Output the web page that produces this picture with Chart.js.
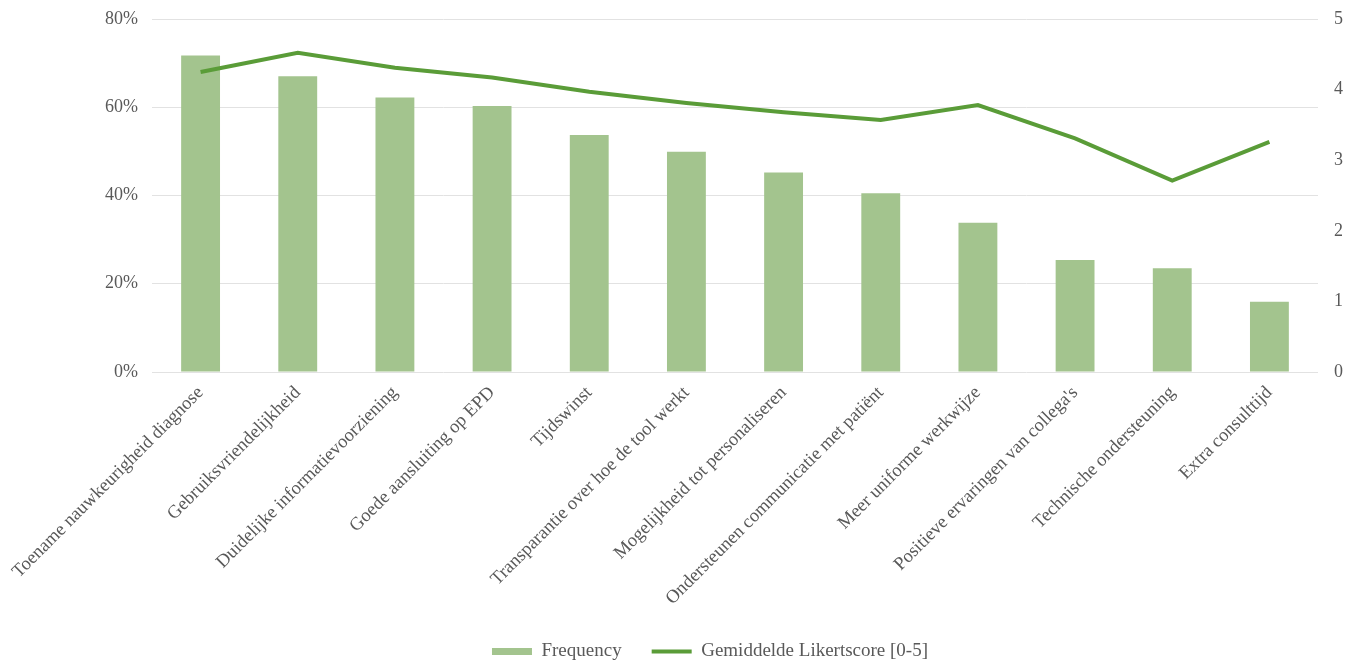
<!DOCTYPE html>
<html>
<head>
<meta charset="utf-8">
<script src="https://cdn.jsdelivr.net/npm/chart.js@4.4.1/dist/chart.umd.min.js"></script>
<style>
  html, body { margin: 0; padding: 0; background: #fff; }
  #wrap { width: 1358px; height: 662px; }
</style>
</head>
<body>
<div id="wrap"><canvas id="myChart"></canvas></div>
<script>
const labels = [
  'Toename nauwkeurigheid diagnose',
  'Gebruiksvriendelijkheid',
  'Duidelijke informatievoorziening',
  'Goede aansluiting op EPD',
  'Tijdswinst',
  'Transparantie over hoe de tool werkt',
  'Mogelijkheid tot personaliseren',
  'Ondersteunen communicatie met patiënt',
  'Meer uniforme werkwijze',
  'Positieve ervaringen van collega\'s',
  'Technische ondersteuning',
  'Extra consulttijd'
];

// percentage of respondents per factor
const frequency = [71.7, 67.0, 62.2, 60.3, 53.7, 49.9, 45.2, 40.5, 33.8, 25.4, 23.5, 15.9];
// mean Likert score per factor (0-5)
const likert = [4.25, 4.52, 4.31, 4.17, 3.97, 3.81, 3.68, 3.57, 3.78, 3.31, 2.71, 3.26];

const pctTicks = [0, 20, 40, 60, 80];
const scoreTicks = [0, 1, 2, 3, 4, 5];

const barColor = '#a3c48e';
const lineColor = '#5a9c38';
const textColor = '#595959';
const fontFamily = '"Liberation Serif", "Times New Roman", serif';

Chart.defaults.font.family = fontFamily;
Chart.defaults.color = textColor;

// legend sits a bit right of the canvas centre, under the plot area
const legendShift = {
  id: 'legendShift',
  afterLayout(chart) {
    const lg = chart.legend;
    if (!lg) return;
    lg.left += 31;
    lg.right += 31;
  }
};

// keep the vertical axes from reserving extra room above/below the plot
const noVPad = (scale) => {
  scale.paddingTop = 0;
  scale.paddingBottom = 0;
};

const data = {
  labels: labels,
  datasets: [{
    type: 'bar',
    label: 'Frequency',
    data: frequency,
    backgroundColor: barColor,
    yAxisID: 'y',
    categoryPercentage: 1,
    barPercentage: 0.4,
    order: 1
  }, {
    type: 'line',
    label: 'Gemiddelde Likertscore [0-5]',
    data: likert,
    borderColor: lineColor,
    backgroundColor: lineColor,
    borderWidth: 4,
    pointRadius: 0,
    tension: 0,
    yAxisID: 'y1',
    order: 0
  }]
};

const config = {
  data: data,
  plugins: [legendShift],
  options: {
    responsive: true,
    maintainAspectRatio: false,
    animation: false,
    layout: { padding: { top: 19, left: 0, right: 0, bottom: -9 } },
    plugins: {
      tooltip: { enabled: false },
      legend: {
        position: 'bottom',
        labels: {
          font: { size: 19 },
          color: textColor,
          usePointStyle: true,
          pointStyleWidth: 40,
          boxHeight: 7,
          padding: 30,
          sort: (a, b) => a.datasetIndex - b.datasetIndex,
          generateLabels: (chart) => chart.data.datasets.map((ds, i) => ({
            text: ds.label,
            datasetIndex: i,
            fillStyle: ds.type === 'bar' ? barColor : 'rgba(0,0,0,0)',
            strokeStyle: lineColor,
            lineWidth: ds.type === 'bar' ? 0 : 4,
            pointStyle: ds.type === 'bar' ? 'rect' : 'line',
            fontColor: textColor,
            hidden: false
          }))
        }
      }
    },
    scales: {
      x: {
        offset: true,
        grid: { display: false },
        border: { display: false },
        ticks: {
          font: { size: 18.5 },
          color: textColor,
          maxRotation: 45,
          minRotation: 45,
          autoSkip: false,
          padding: 2
        },
        afterFit: (scale) => { scale.height = 240; }
      },
      y: {
        position: 'left',
        min: 0,
        max: 80,
        afterBuildTicks: (scale) => { scale.ticks = pctTicks.map(v => ({ value: v })); },
        grid: { color: '#e2e2e2', lineWidth: 1, drawTicks: false },
        border: { display: false },
        ticks: {
          font: { size: 18 },
          color: textColor,
          padding: 14,
          callback: (v) => v + '%'
        },
        afterFit: (scale) => { scale.width = 152; noVPad(scale); }
      },
      y1: {
        position: 'right',
        min: 0,
        max: 5,
        afterBuildTicks: (scale) => { scale.ticks = scoreTicks.map(v => ({ value: v })); },
        grid: { display: false, drawTicks: false },
        border: { display: false },
        ticks: {
          font: { size: 18 },
          color: textColor,
          padding: 16
        },
        afterFit: (scale) => { scale.width = 40; noVPad(scale); }
      }
    }
  }
};

const myChart = new Chart(
  document.getElementById('myChart'),
  config
);
</script>
</body>
</html>
